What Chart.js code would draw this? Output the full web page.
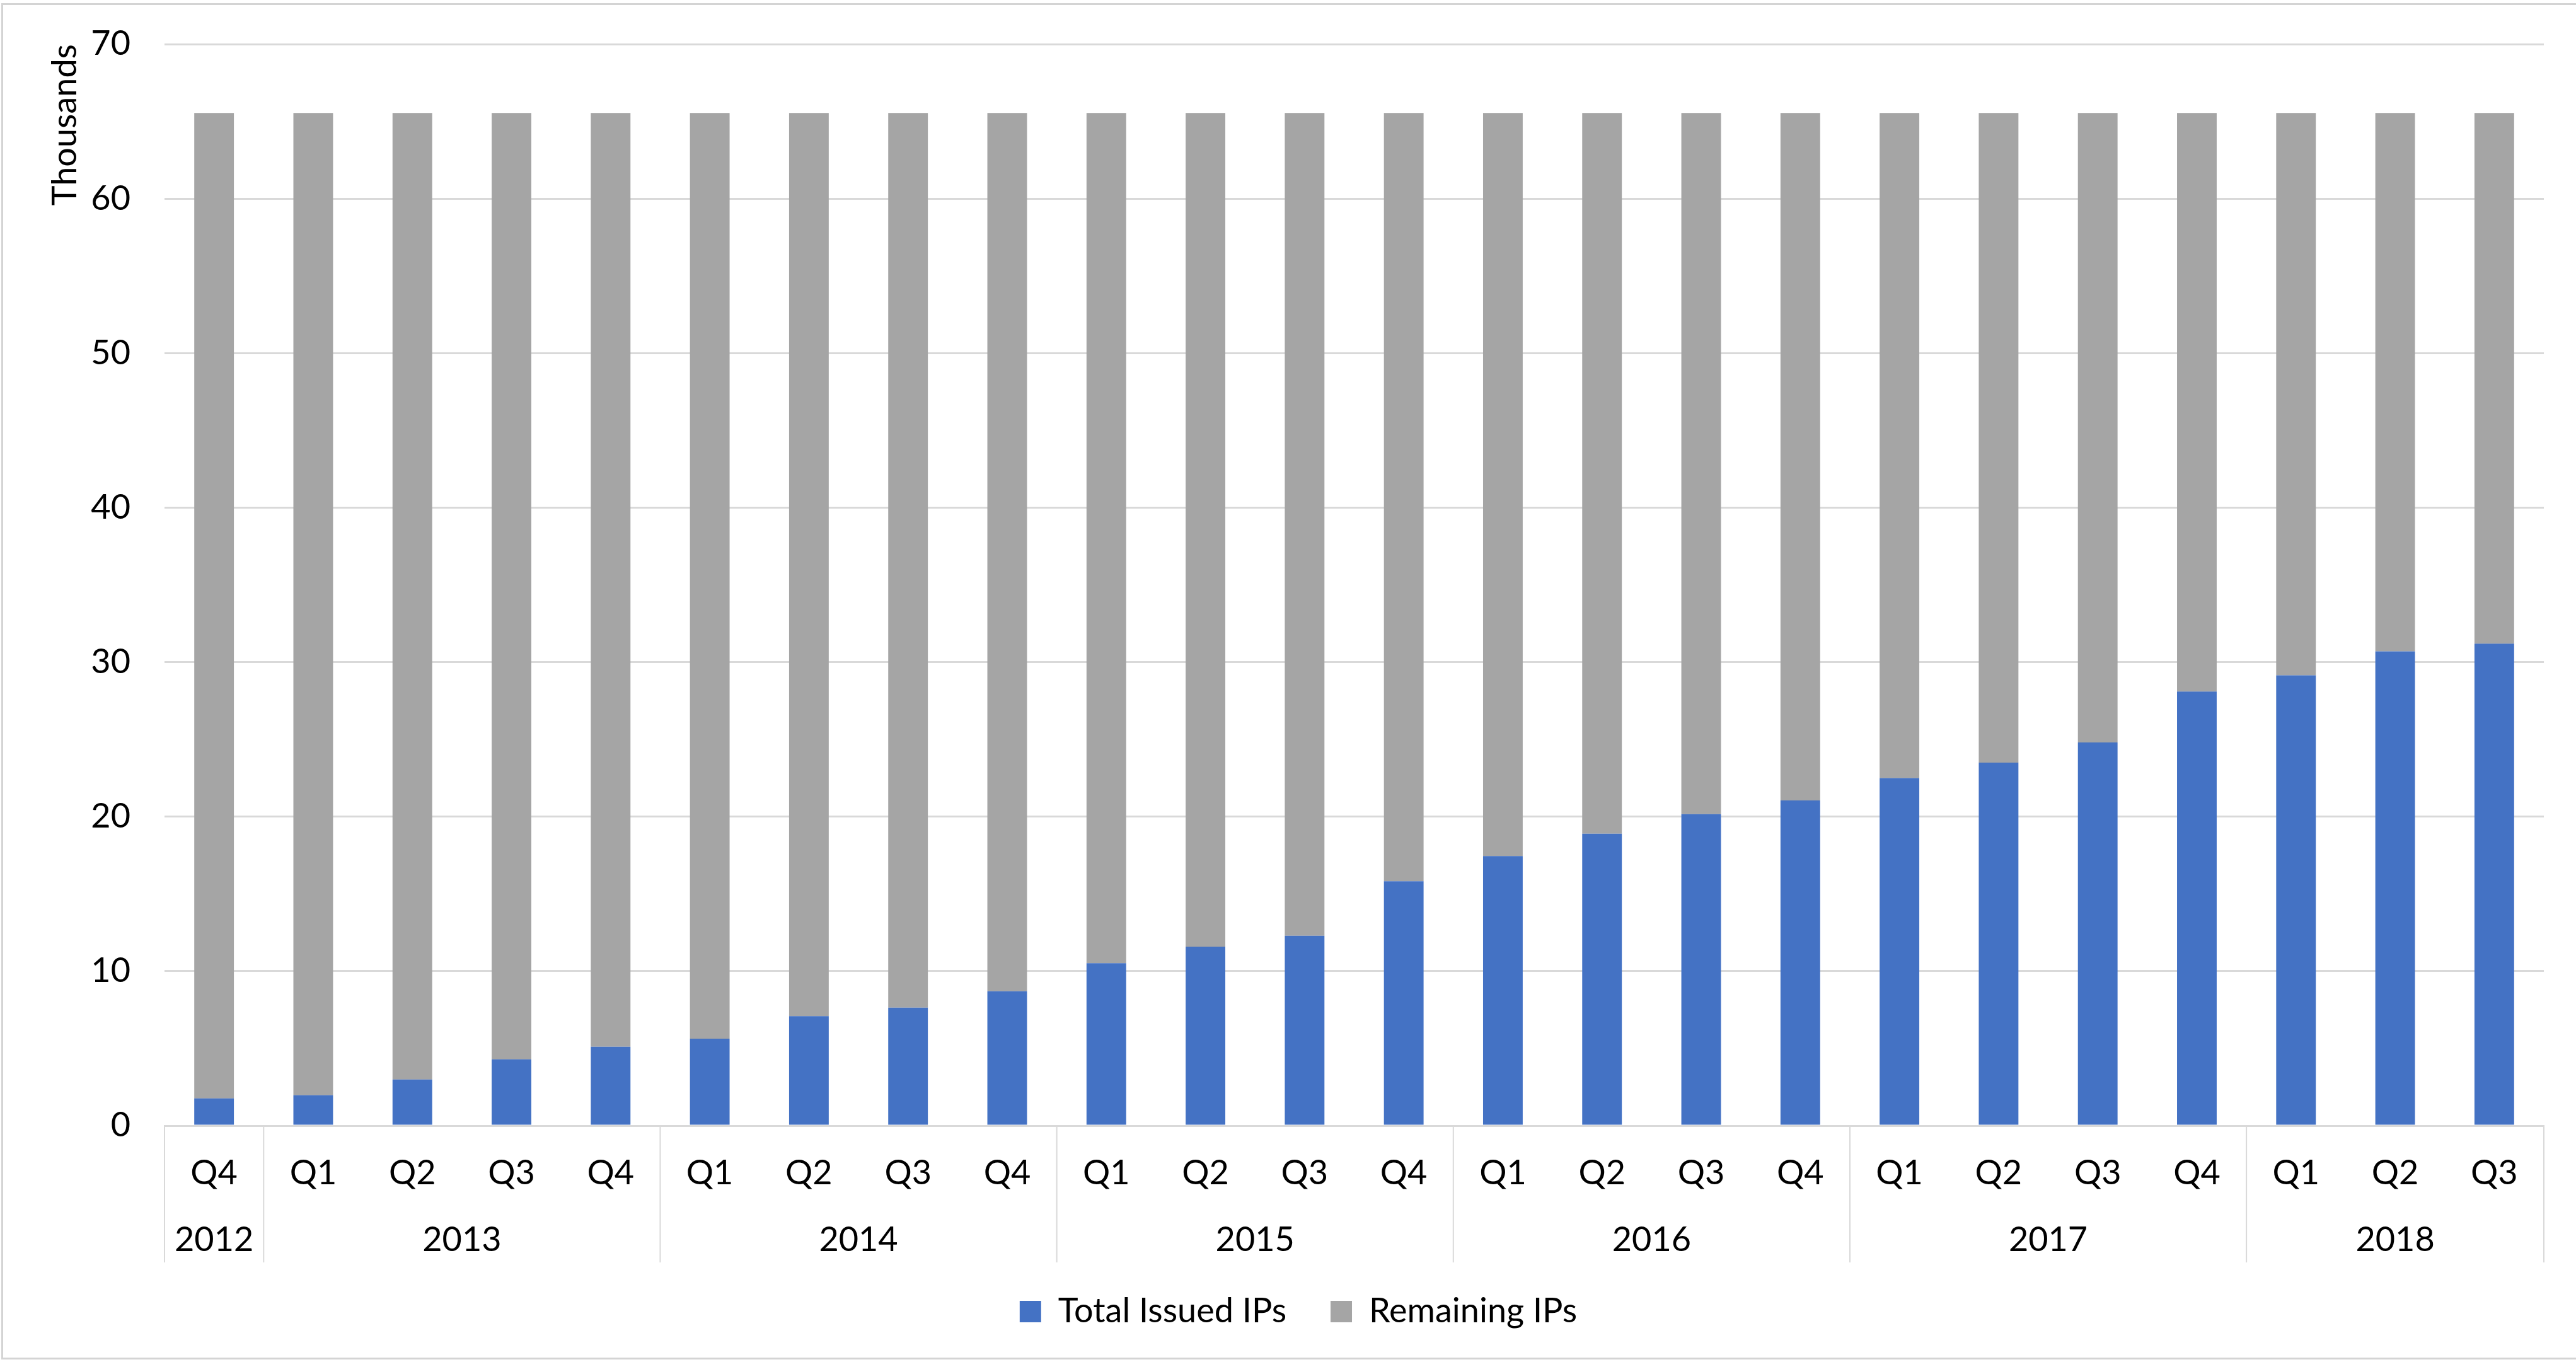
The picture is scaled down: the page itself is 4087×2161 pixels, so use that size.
<!DOCTYPE html>
<html>
<head>
<meta charset="utf-8">
<title>Issued vs remaining IPs</title>
<script src="https://cdn.jsdelivr.net/npm/chart.js@4"></script>
<style>
  html, body { margin: 0; padding: 0; background: #fff; overflow: hidden; }
  #wrap { position: relative; width: 4087px; height: 2161px; }
  #frame {
    position: absolute; left: 2px; top: 5px; width: 4120px; height: 2152px;
    border: 3px solid #d4d4d4; box-sizing: border-box; pointer-events: none;
  }
</style>
</head>
<body>
<div id="wrap">
  <canvas id="ipChart" width="4087" height="2161"></canvas>
  <div id="frame"></div>
</div>
<script>
// quarter labels, one per bar
const quarters = ['Q4',
  'Q1', 'Q2', 'Q3', 'Q4',
  'Q1', 'Q2', 'Q3', 'Q4',
  'Q1', 'Q2', 'Q3', 'Q4',
  'Q1', 'Q2', 'Q3', 'Q4',
  'Q1', 'Q2', 'Q3', 'Q4',
  'Q1', 'Q2', 'Q3'];

// year groups on the second label row
const years = ['2012', '2013', '2014', '2015', '2016', '2017', '2018'];
const quartersPerYear = [1, 4, 4, 4, 4, 4, 3];

// values in thousands
const totalIssued = [1.76, 1.97, 2.99, 4.29, 5.11, 5.63, 7.09, 7.64, 8.70, 10.51, 11.58, 12.29,
  15.82, 17.45, 18.90, 20.16, 21.05, 22.50, 23.50, 24.80, 28.10, 29.15, 30.70, 31.20];
const remaining = [63.78, 63.57, 62.55, 61.25, 60.43, 59.91, 58.45, 57.90, 56.84, 55.03, 53.96, 53.25,
  49.72, 48.09, 46.64, 45.38, 44.49, 43.04, 42.04, 40.74, 37.44, 36.39, 34.84, 34.34];

const yTicks = [0, 10, 20, 30, 40, 50, 60, 70];

const FONT = 'Lato';
const FONT_SIZE = 54;
const GRID = '#d9d9d9';

// draws the year row and the group separators under the quarter labels
const yearRow = {
  id: 'yearRow',
  afterDraw(chart) {
    const x = chart.scales.x;
    const ctx = chart.ctx;
    const step = x.width / quarters.length;
    const top = x.top;
    ctx.save();
    ctx.strokeStyle = GRID;
    ctx.lineWidth = 2;
    ctx.fillStyle = '#000';
    ctx.font = FONT_SIZE + 'px ' + FONT;
    ctx.textAlign = 'center';
    ctx.textBaseline = 'middle';

    let start = 0;
    const edge = (px) => {
      ctx.beginPath();
      ctx.moveTo(px, top);
      ctx.lineTo(px, top + 217);
      ctx.stroke();
    };
    edge(x.getPixelForTick(0) - step / 2);
    years.forEach((yr, i) => {
      const end = start + quartersPerYear[i] - 1;
      const left = x.getPixelForTick(start) - step / 2;
      const right = x.getPixelForTick(end) + step / 2;
      ctx.fillText(yr, (left + right) / 2, top + 182);
      edge(right);
      start = end + 1;
    });
    ctx.restore();
  }
};

new Chart(document.getElementById('ipChart'), {
  type: 'bar',
  data: {
    labels: quarters,
    datasets: [
      {
        label: 'Total Issued IPs',
        data: totalIssued,
        backgroundColor: '#4472c4',
        barPercentage: 0.4,
        categoryPercentage: 1
      },
      {
        label: 'Remaining IPs',
        data: remaining,
        backgroundColor: '#a5a5a5',
        barPercentage: 0.4,
        categoryPercentage: 1
      }
    ]
  },
  options: {
    responsive: false,
    animation: false,
    layout: { padding: { top: 70, left: 84, right: 51, bottom: 43 } },
    plugins: {
      tooltip: { enabled: false },
      legend: {
        position: 'bottom',
        labels: {
          color: '#000',
          font: { family: FONT, size: FONT_SIZE },
          boxWidth: 34,
          boxHeight: 34,
          padding: 70
        }
      }
    },
    scales: {
      x: {
        stacked: true,
        grid: { display: false, drawTicks: false },
        border: { display: true, color: GRID, width: 3 },
        ticks: {
          color: '#000',
          font: { family: FONT, size: FONT_SIZE },
          padding: 43,
          maxRotation: 0,
          autoSkip: false
        },
        afterFit(scale) { scale.height = 198; }
      },
      y: {
        stacked: true,
        min: 0,
        max: 70,
        grid: { color: GRID, lineWidth: 3, drawTicks: false },
        border: { display: false },
        afterBuildTicks(scale) { scale.ticks = yTicks.map(v => ({ value: v })); },
        ticks: {
          color: '#000',
          font: { family: FONT, size: FONT_SIZE },
          padding: 54
        },
        title: {
          display: true,
          text: 'Thousands',
          align: 'end',
          color: '#000',
          font: { family: FONT, size: FONT_SIZE },
          padding: { top: -13, bottom: 0 }
        },
        afterFit(scale) {
          scale.width = 177;
          // the wide tick padding should not push the plot top down
          scale.paddingTop = 0;
          scale.paddingBottom = 0;
        }
      }
    }
  },
  plugins: [yearRow]
});
</script>
</body>
</html>
